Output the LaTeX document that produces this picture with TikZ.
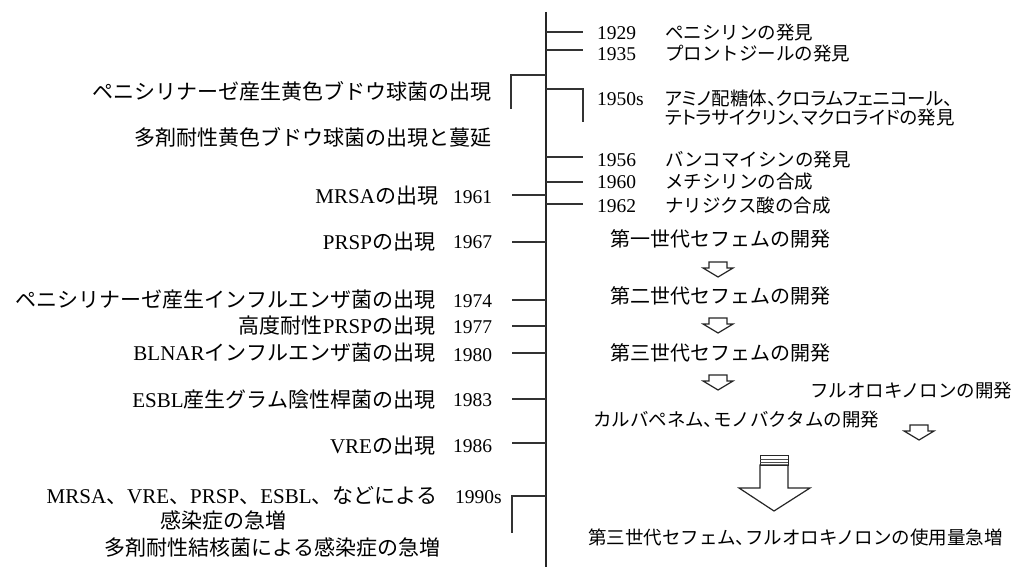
\documentclass[tikz,border=0pt]{standalone}
\usepackage{fontspec}
\usepackage{graphicx}
\setmainfont{Liberation Serif}
\newfontfamily\cjk{Noto Sans CJK JP}
\newfontfamily\cjkp[RawFeature=+palt]{Noto Sans CJK JP}
\newcommand{\hc}{{\cjkp 、}}
\begin{document}
\begin{tikzpicture}[x=1pt,y=-1pt,
  axisline/.style={line width=1.4pt,black!85},
  tickline/.style={line width=1.1pt,black!80},
  lbl/.style={inner sep=0pt,outer sep=0pt,font=\fontsize{21}{24}\selectfont},
  rlbl/.style={inner sep=0pt,outer sep=0pt,font=\fontsize{18.5}{21}\selectfont},
  yr/.style={inner sep=0pt,outer sep=0pt,font=\fontsize{19.5}{22}\selectfont},
  clbl/.style={inner sep=0pt,outer sep=0pt,font=\fontsize{20}{23}\selectfont},
  hollow/.style={draw=black!85,line width=1.2pt,fill=white,line join=miter},
  smallarrow/.pic={\path[hollow] (-9,0) -- (9,0) -- (9,6) -- (15,6) -- (0,15) -- (-15,6) -- (-9,6) -- cycle;}
]
\useasboundingbox (0,0) rectangle (1016,567);
\fill[white] (0,0) rectangle (1016,567);

% axis
\coordinate (atop) at (546,12);
\coordinate (abot) at (546,567);
\draw[axisline] (atop) -- (abot);

% right ticks
\foreach \n/\y in {t1929/32,t1935/50,t1956/157,t1960/182,t1962/204}{
  \coordinate (\n a) at (546,\y);
  \coordinate (\n b) at (583,\y);
  \draw[tickline] (\n a) -- (\n b);
}
% left ticks
\foreach \n/\y in {t1961/195,t1967/242,t1974/300,t1977/326,t1980/353,t1983/399,t1986/443}{
  \coordinate (\n a) at (546,\y);
  \coordinate (\n b) at (512,\y);
  \draw[tickline] (\n a) -- (\n b);
}
% brackets
\coordinate (bl1) at (546,75); \coordinate (bl2) at (511,75); \coordinate (bl3) at (511,109);
\draw[tickline] (bl1) -- (bl2) -- (bl3);
\coordinate (br1) at (546,89); \coordinate (br2) at (583,89); \coordinate (br3) at (583,122);
\draw[tickline] (br1) -- (br2) -- (br3);
\coordinate (bb1) at (546,496); \coordinate (bb2) at (512,496); \coordinate (bb3) at (512,533);
\draw[tickline] (bb1) -- (bb2) -- (bb3);

% right side years and texts
\node[yr,anchor=west] (y1929) at (597,33) {1929};
\node[rlbl,anchor=west] (d1929) at (665,33) {\cjk ペニシリンの発見};
\node[yr,anchor=west] (y1935) at (597,54) {1935};
\node[rlbl,anchor=west] (d1935) at (665,54) {\cjk プロントジールの発見};
\node[yr,anchor=west] (y1950) at (597,99) {1950s};
\node[rlbl,anchor=west] (d1950a) at (665,98) {\cjkp アミノ配糖体、クロラムフェニコール、};
\node[rlbl,anchor=west] (d1950b) at (665,118) {\cjkp テトラサイクリン、マクロライドの発見};
\node[yr,anchor=west] (y1956) at (597,160) {1956};
\node[rlbl,anchor=west] (d1956) at (665,160) {\cjk バンコマイシンの発見};
\node[yr,anchor=west] (y1960) at (597,182) {1960};
\node[rlbl,anchor=west] (d1960) at (665,182) {\cjk メチシリンの合成};
\node[yr,anchor=west] (y1962) at (597,206) {1962};
\node[rlbl,anchor=west] (d1962) at (665,206) {\cjk ナリジクス酸の合成};

% left side
\node[lbl,anchor=east] (l1) at (491,91) {\cjk ペニシリナーゼ産生黄色ブドウ球菌の出現};
\node[lbl,anchor=east] (l2) at (491,137) {\cjk 多剤耐性黄色ブドウ球菌の出現と蔓延};
\node[yr,anchor=west] (y1961) at (453,197) {1961};
\node[lbl,anchor=east] (l1961) at (438,196) {MRSA{\cjk の出現}};
\node[yr,anchor=west] (y1967) at (453,242) {1967};
\node[lbl,anchor=east] (l1967) at (435,242) {PRSP{\cjk の出現}};
\node[yr,anchor=west] (y1974) at (453,301) {1974};
\node[lbl,anchor=east] (l1974) at (435,300) {\cjk ペニシリナーゼ産生インフルエンザ菌の出現};
\node[yr,anchor=west] (y1977) at (453,327) {1977};
\node[lbl,anchor=east] (l1977) at (435,326) {{\cjk 高度耐性}PRSP{\cjk の出現}};
\node[yr,anchor=west] (y1980) at (453,355) {1980};
\node[lbl,anchor=east] (l1980) at (435,353) {BLNAR{\cjk インフルエンザ菌の出現}};
\node[yr,anchor=west] (y1983) at (453,400) {1983};
\node[lbl,anchor=east] (l1983) at (435,400) {ESBL{\cjk 産生グラム陰性桿菌の出現}};
\node[yr,anchor=west] (y1986) at (453,446) {1986};
\node[lbl,anchor=east] (l1986) at (435,446) {VRE{\cjk の出現}};
\node[yr,anchor=west] (y1990) at (455,497) {1990s};
\node[lbl,anchor=east] (l1990a) at (437,496) {MRSA{\cjk 、}VRE{\cjk 、}PRSP{\cjk 、}ESBL{\cjk 、などによる}};
\node[lbl] (l1990b) at (223,520) {\cjk 感染症の急増};
\node[lbl,anchor=east] (l1990c) at (440,548) {\cjk 多剤耐性結核菌による感染症の急増};

% right centre flow
\node[clbl] (c1) at (720,239) {\cjk 第一世代セフェムの開発};
\pic at (718,262) {smallarrow};
\node[clbl] (c2) at (720,296) {\cjk 第二世代セフェムの開発};
\pic at (718,318) {smallarrow};
\node[clbl] (c3) at (720,353) {\cjk 第三世代セフェムの開発};
\pic at (718,375) {smallarrow};
\node[rlbl,anchor=west] (fq) at (810,391) {\cjk フルオロキノロンの開発};
\node[rlbl,anchor=west] (cb) at (593,420) {{\cjk カルバペネム}\hc{\cjk モノバクタムの開発}};
\pic at (919,425) {smallarrow};
% big hollow arrow
\path[hollow] (760,465) -- (760,488) -- (739,488) -- (774,511) -- (810,488) -- (788,488) -- (788,465) -- cycle;
\draw[line width=1pt,black!85] (760,455) rectangle (788,465);
\draw[line width=0.8pt,black!70] (760,459) -- (788,459) (760,462) -- (788,462);
\node[rlbl,anchor=west] (fin) at (588,537) {{\cjk 第三世代セフェム}\hc{\cjk フルオロキノロンの使用量急増}};
\end{tikzpicture}
\end{document}
